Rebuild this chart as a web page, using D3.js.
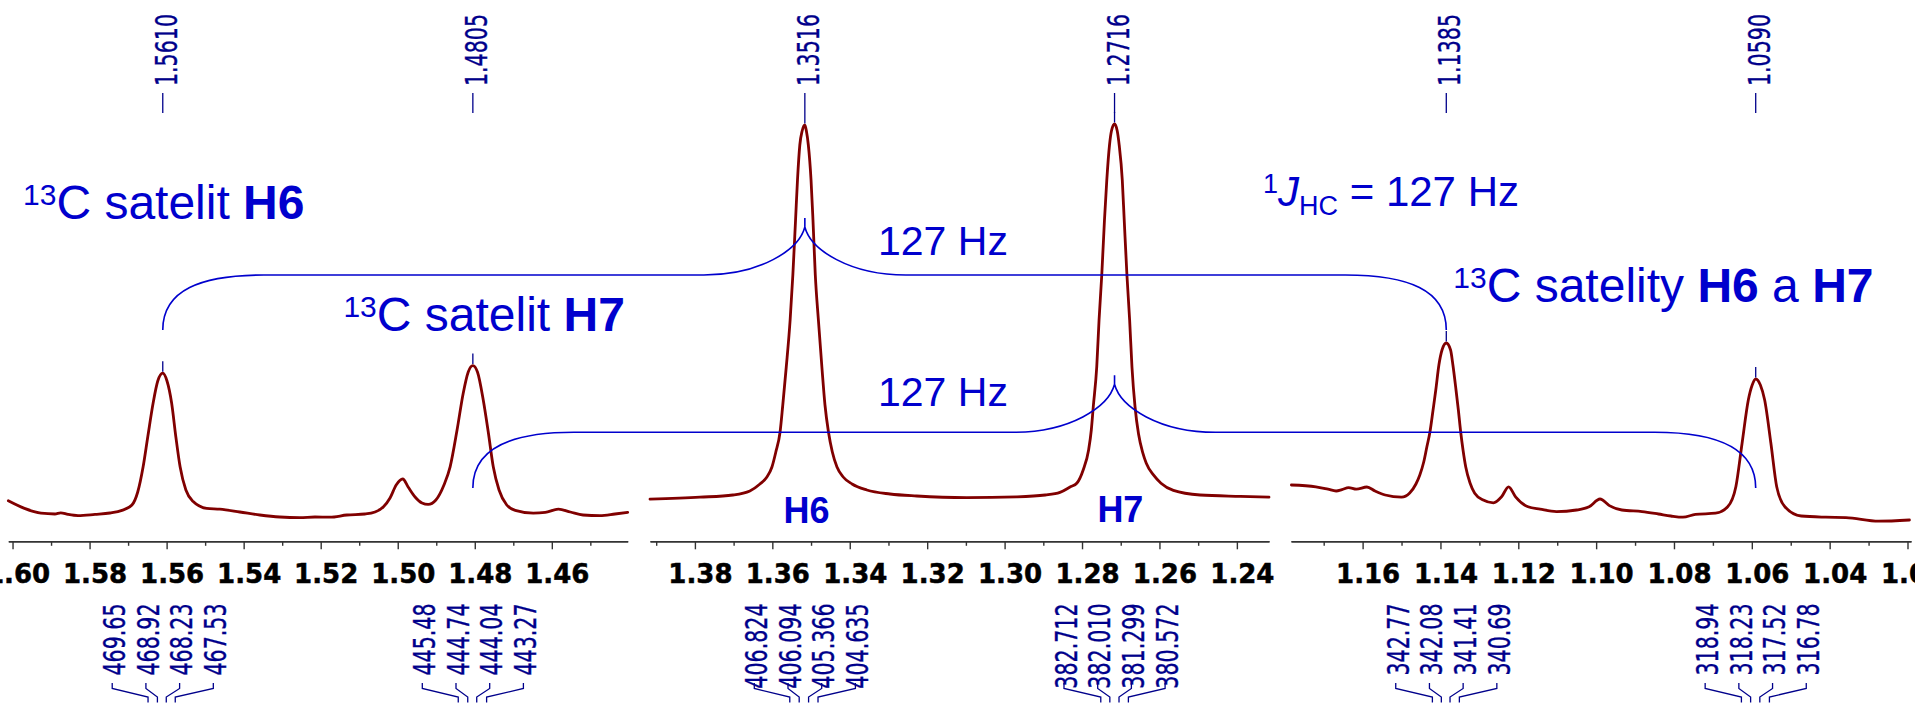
<!DOCTYPE html>
<html><head><meta charset="utf-8">
<script src="https://cdn.jsdelivr.net/npm/d3@7"></script>
<style>html,body{margin:0;padding:0;background:#fff;overflow:hidden}svg{display:block}</style>
</head><body>
<svg id="chart" width="1915" height="716"></svg>
<script>
// ================= DATA =================
// ppm windows of the three broken-axis panels (left edge, right edge)
const panelDomains = [[1.6011, 1.4403], [1.3916, 1.2317], [1.1784, 1.0191]];
const majorTicks = [
  [1.60, 1.58, 1.56, 1.54, 1.52, 1.50, 1.48, 1.46],
  [1.38, 1.36, 1.34, 1.32, 1.30, 1.28, 1.26, 1.24],
  [1.16, 1.14, 1.12, 1.10, 1.08, 1.06, 1.04, 1.02]];
const minorTicks = [
  [1.59, 1.57, 1.55, 1.53, 1.51, 1.49, 1.47, 1.45],
  [1.39, 1.37, 1.35, 1.33, 1.31, 1.29, 1.27, 1.25],
  [1.17, 1.15, 1.13, 1.11, 1.09, 1.07, 1.05, 1.03]];

// spectrum traces, [ppm, intensity]
const spectrum1 = [[1.6011,4.8],[1.5969,2.9],[1.5926,1.7],[1.5890,1.5],[1.5875,1.8],[1.5856,1.4],[1.5830,1.1],[1.5786,1.4],[1.5747,1.75],[1.5716,2.4],[1.5690,3.75],[1.5675,7],[1.5661,13.3],[1.5649,20.75],[1.5635,29.25],[1.5623,34.75],[1.5610,36.7],[1.5599,34.75],[1.5587,29.25],[1.5576,20.75],[1.5565,13.3],[1.5550,7.5],[1.5531,4.6],[1.5496,2.9],[1.5462,2.7],[1.5410,2],[1.5358,1.25],[1.5306,0.75],[1.5254,0.6],[1.5215,0.75],[1.5176,0.7],[1.5132,1.25],[1.5085,1.5],[1.5059,2],[1.5037,3.3],[1.5020,5.5],[1.5004,8.75],[1.4987,10.25],[1.4973,8.25],[1.4955,5.75],[1.4937,4.25],[1.4921,3.9],[1.4901,5],[1.4880,8.75],[1.4864,13.3],[1.4846,22.5],[1.4830,31.7],[1.4817,37],[1.4805,38.6],[1.4793,37],[1.4778,30],[1.4765,22],[1.4752,13.3],[1.4737,7.5],[1.4717,3.75],[1.4695,2.4],[1.4648,1.7],[1.4617,1.9],[1.4583,2.7],[1.4552,2],[1.4519,1.25],[1.4475,1.1],[1.4436,1.5],[1.4403,1.9]];
const spectrum2 = [[1.3916,5.2],[1.3787,5.7],[1.3702,6.25],[1.3658,7.25],[1.3632,9],[1.3614,10.75],[1.3601,13.25],[1.3591,17],[1.3580,22],[1.3573,28.75],[1.3564,38.25],[1.3554,50],[1.3547,61.25],[1.3540,75],[1.3535,85],[1.3529,93.75],[1.3523,97.25],[1.3516,98.75],[1.3512,97.25],[1.3507,93.75],[1.3500,85],[1.3495,75],[1.3489,61.25],[1.3481,50],[1.3472,38.25],[1.3464,28.75],[1.3455,22],[1.3445,17],[1.3433,13.25],[1.3417,10.75],[1.3394,9],[1.3356,7.5],[1.3296,6.5],[1.3227,6],[1.3098,5.6],[1.2969,5.8],[1.2895,6.25],[1.2857,6.9],[1.2831,8.25],[1.2813,9.25],[1.2797,12.5],[1.2783,17.5],[1.2776,22.5],[1.2771,28.25],[1.2762,38.25],[1.2756,50],[1.2749,61.25],[1.2742,75],[1.2736,85],[1.2729,93.75],[1.2724,97.25],[1.2716,99],[1.2709,97.25],[1.2704,93.75],[1.2696,85],[1.2691,75],[1.2684,61.25],[1.2677,50],[1.2671,38.25],[1.2663,28.25],[1.2654,21.5],[1.2643,16.8],[1.2634,14.2],[1.2615,11.2],[1.2596,9.2],[1.2564,7.4],[1.2495,6.25],[1.2391,5.9],[1.2317,5.7]];
const spectrum3 = [[1.1783,8.75],[1.1720,8.3],[1.1689,7.7],[1.1668,7.25],[1.1653,7.6],[1.1636,8.1],[1.1616,7.7],[1.1589,8.25],[1.1568,7.25],[1.1542,6.25],[1.1500,5.7],[1.1479,6.75],[1.1463,9],[1.1453,11.25],[1.1443,14.5],[1.1435,18.25],[1.1427,22],[1.1419,27.5],[1.1412,32.5],[1.1404,38.75],[1.1396,42.5],[1.1385,44.25],[1.1374,42.5],[1.1368,38.75],[1.1360,32.5],[1.1354,27.5],[1.1348,22],[1.1342,17.5],[1.1335,13.25],[1.1324,9.25],[1.1312,6.7],[1.1290,5],[1.1264,4.3],[1.1243,5.8],[1.1225,8.3],[1.1207,5.8],[1.1175,3.3],[1.1144,2.7],[1.1102,2.1],[1.1050,2.5],[1.1018,3.3],[1.0990,5.25],[1.0966,3.6],[1.0934,2.5],[1.0882,2.1],[1.0840,1.5],[1.0808,1],[1.0777,0.7],[1.0745,1.4],[1.0693,1.7],[1.0662,3.3],[1.0641,8.3],[1.0625,19.2],[1.0609,30],[1.0599,33.75],[1.0590,35.25],[1.0578,33.75],[1.0567,30],[1.0551,19.2],[1.0536,8.3],[1.0515,3.3],[1.0473,1],[1.0410,0.7],[1.0358,0.6],[1.0274,-0.3],[1.0195,0]];
const spectra = [spectrum1, spectrum2, spectrum3];

// picked peaks
const peakLabels = ["1.5610", "1.4805", "1.3516", "1.2716", "1.1385", "1.0590"];
const peakHeights = [36.7, 38.6, 98.75, 99, 44.25, 35.25];
// multiplet line positions in Hz (one group of four per peak)
const hzLabels = [
  ["469.65", "468.92", "468.23", "467.53"],
  ["445.48", "444.74", "444.04", "443.27"],
  ["406.824", "406.094", "405.366", "404.635"],
  ["382.712", "382.010", "381.299", "380.572"],
  ["342.77", "342.08", "341.41", "340.69"],
  ["318.94", "318.23", "317.52", "316.78"]];
const spectrometerMHz = 300.13;

// coupling brackets: [left satellite, centre peak, right satellite]
const brackets = [["1.5610", "1.3516", "1.1385"], ["1.4805", "1.2716", "1.0590"]];

// ================= DRAW =================
const BLUE = "#0000cd", NAVY = "#00008b", RED = "#800000", AX = "#333";
const panelRanges = [[8.3, 627.7], [650, 1269], [1291, 1911]];
const axisY = 541.3;
const svg = d3.select("#chart");
const y = d3.scaleLinear().domain([0, 100]).range([520, 120]);
const xs = panelDomains.map((d, i) => d3.scaleLinear().domain(d).range(panelRanges[i]));
function xOf(p) {
  const i = panelDomains.findIndex(d => p <= d[0] + 1e-9 && p >= d[1] - 1e-9);
  return xs[i](p);
}

// axes
xs.forEach((x, i) => {
  const gm = svg.append("g").attr("transform", `translate(0,${axisY})`)
    .call(d3.axisBottom(x).tickValues(minorTicks[i]).tickSize(4.5).tickSizeOuter(0).tickFormat(""));
  const gM = svg.append("g").attr("transform", `translate(0,${axisY})`)
    .call(d3.axisBottom(x).tickValues(majorTicks[i]).tickSize(8).tickSizeOuter(0).tickFormat(d3.format(".2f")));
  [gm, gM].forEach(g => {
    g.selectAll("path.domain").attr("stroke", AX).attr("stroke-width", 1.4);
    g.selectAll(".tick line").attr("stroke", AX).attr("stroke-width", 1.4);
  });
  gM.attr("font-family", "'DejaVu Sans', Verdana, sans-serif").attr("font-size", 26).attr("font-weight", "bold");
  gM.selectAll(".tick text").attr("fill", "#000").attr("stroke", "#000").attr("stroke-width", 0.5)
    .attr("y", 42).attr("dy", 0).attr("dx", 5);
});

// spectrum traces
spectra.forEach((s, i) => {
  const line = d3.line().x(d => xs[i](d[0])).y(d => y(d[1])).curve(d3.curveMonotoneX);
  svg.append("path").attr("d", line(s)).attr("fill", "none").attr("stroke", RED)
    .attr("stroke-width", 2.8).attr("stroke-linejoin", "round").attr("stroke-linecap", "round");
});

// rotated condensed label helper
function vlabel(x, yTop, txt) {
  svg.append("text")
    .attr("transform", `translate(${x},${yTop}) rotate(-90) scale(1,1.5)`)
    .attr("text-anchor", "end").attr("dy", "0.3645em")
    .attr("font-family", "'DejaVu Sans', Verdana, sans-serif").attr("font-size", 20.6)
    .attr("fill", NAVY).attr("stroke", NAVY).attr("stroke-width", 0.25).text(txt);
}

// top peak picks
peakLabels.forEach((lab, k) => {
  const p = +lab, px = xOf(p), py = y(peakHeights[k]);
  vlabel(px + 2.8, 14, lab);
  svg.append("line").attr("x1", px).attr("x2", px).attr("y1", 93).attr("y2", 113)
    .attr("stroke", NAVY).attr("stroke-width", 1.3);
  svg.append("line").attr("x1", px).attr("x2", px).attr("y1", py - 12).attr("y2", py - 1.5)
    .attr("stroke", NAVY).attr("stroke-width", 1.3);
});

// bottom multiplet labels (Hz) with leader lines
hzLabels.forEach((grp, k) => {
  const cx = xOf(+peakLabels[k]);
  grp.forEach((lab, j) => {
    const lx = cx + (j - 1.5) * 33.7;
    vlabel(lx + 1.5, 603.5, lab);
    const px = xOf(+lab / spectrometerMHz);
    svg.append("path").attr("d", `M${lx},683 V688.5 L${px},697 V702.5`)
      .attr("fill", "none").attr("stroke", NAVY).attr("stroke-width", 1.3);
  });
});

// coupling brackets
const levels = [275, 432.3], ends = [[330, 330], [488, 488]];
brackets.forEach((b, k) => {
  const xL = xOf(+b[0]), xC = xOf(+b[1]), xR = xOf(+b[2]);
  const L = levels[k], top = L - 48;
  const d = `M${xL},${ends[k][0]} C${xL},${ends[k][0] - 40} ${xL + 38},${L} ${xL + 101},${L}` +
    ` L${xC - 101},${L} C${xC - 45},${L} ${xC - 6},${L - 25} ${xC},${top}` +
    ` V${top - 9} M${xC},${top} C${xC + 6},${L - 25} ${xC + 45},${L} ${xC + 101},${L}` +
    ` L${xR - 101},${L} C${xR - 38},${L} ${xR},${ends[k][1] - 40} ${xR},${ends[k][1]}`;
  svg.append("path").attr("d", d).attr("fill", "none").attr("stroke", BLUE).attr("stroke-width", 1.6);
});

// annotations
const ANN = "'Liberation Sans', Arial, sans-serif";
function satLabel(x, yb, parts) {
  const t = svg.append("text").attr("x", x).attr("y", yb).attr("font-family", ANN).attr("fill", BLUE).attr("font-size", 48);
  t.append("tspan").attr("font-size", 30).attr("dy", -14).text("13");
  parts.forEach((p, i) => {
    const s = t.append("tspan").text(p[0]);
    if (i === 0) s.attr("dy", 14);
    if (p[1]) s.attr("font-weight", "bold");
  });
}
satLabel(23, 219.3, [["C satelit ", false], ["H6", true]]);
satLabel(343.4, 331, [["C satelit ", false], ["H7", true]]);
satLabel(1453.3, 301.7, [["C satelity ", false], ["H6", true], [" a ", false], ["H7", true]]);

[[878, 255], [878, 405.7]].forEach(p => {
  svg.append("text").attr("x", p[0]).attr("y", p[1]).attr("font-family", ANN).attr("font-size", 41)
    .attr("fill", BLUE).text("127 Hz");
});

const jt = svg.append("text").attr("x", 1263).attr("y", 206).attr("font-family", ANN).attr("font-size", 42).attr("fill", BLUE);
jt.append("tspan").attr("font-size", 27).attr("dy", -13).text("1");
jt.append("tspan").attr("font-style", "italic").attr("dy", 13).text("J");
jt.append("tspan").attr("font-size", 27).attr("dy", 9).text("HC");
jt.append("tspan").attr("dy", -9).text(" = 127 Hz");

[["H6", 806.6, 522.7], ["H7", 1120.4, 521.5]].forEach(h => {
  svg.append("text").attr("x", h[1]).attr("y", h[2]).attr("text-anchor", "middle")
    .attr("font-family", ANN).attr("font-weight", "bold").attr("font-size", 36).attr("fill", BLUE).text(h[0]);
});
</script>
</body></html>
